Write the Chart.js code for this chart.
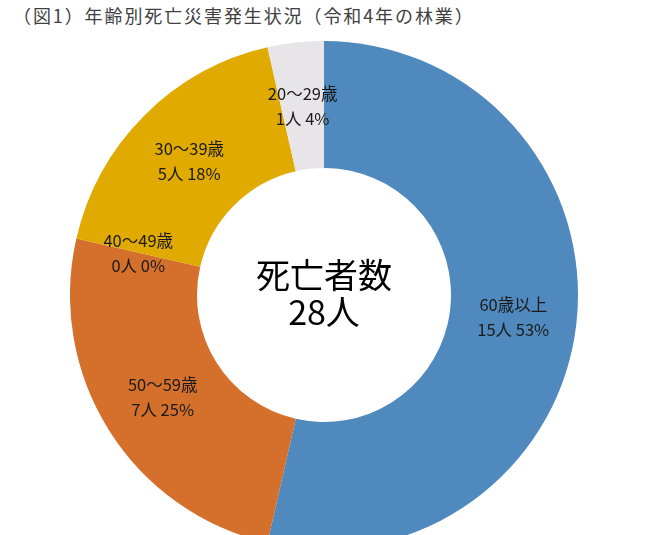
<!DOCTYPE html>
<html>
<head>
<meta charset="utf-8">
<script src="https://cdn.jsdelivr.net/npm/chart.js@4"></script>
<style>
  html, body { margin: 0; padding: 0; background: #fff; width: 650px; height: 535px; overflow: hidden; }
  #title {
    position: absolute; left: 13px; top: 2px;
    font: 18px "Noto Sans CJK JP", sans-serif;
    color: #404040; letter-spacing: 1.9px; white-space: nowrap;
  }
  #wrap { position: absolute; left: 70px; top: 41px; width: 508px; height: 508px; }
</style>
</head>
<body>
<div id="title">（図1）年齢別死亡災害発生状況（令和4年の林業）</div>
<div id="wrap"><canvas id="chart"></canvas></div>
<script>
// ---- data (clockwise from 12 o'clock) ----
const ageGroups = ['60歳以上', '50〜59歳', '40〜49歳', '30〜39歳', '20〜29歳'];
const deaths    = [15, 7, 0, 5, 1];
const shares    = [53, 25, 0, 18, 4];   // % as printed on the chart
const colors    = ['#4F89BD', '#D4702C', '#E0AA00', '#E0AA00', '#E7E5E7'];

const total = deaths.reduce((a, b) => a + b, 0);
const labelFont = '16.5px "Noto Sans CJK JP", sans-serif';

/* ---- labels on each slice + text in the hole ---- */
const sliceLabels = {
  id: 'sliceLabels',
  afterDatasetsDraw(chart) {
    const ctx = chart.ctx;
    const arcs = chart.getDatasetMeta(0).data;
    ctx.save();
    ctx.fillStyle = '#1a1a1a';
    ctx.textAlign = 'center';
    ctx.textBaseline = 'middle';
    ctx.font = labelFont;
    arcs.forEach((arc, i) => {
      const p = arc.getCenterPoint();
      ctx.fillText(ageGroups[i], p.x, p.y - 12);
      ctx.fillText(deaths[i] + '人 ' + shares[i] + '%', p.x, p.y + 13);
    });

    const first = arcs[0];
    ctx.fillStyle = '#000';
    ctx.font = '34px "Noto Sans CJK JP", sans-serif';
    ctx.fillText('死亡者数', first.x, first.y - 20);
    ctx.fillText(total + '人', first.x, first.y + 17);
    ctx.restore();
  }
};

new Chart(document.getElementById('chart'), {
  type: 'doughnut',
  data: {
    labels: ageGroups,
    datasets: [{
      data: deaths,
      backgroundColor: colors,
      borderWidth: 0
    }]
  },
  options: {
    responsive: true,
    maintainAspectRatio: false,
    animation: false,
    cutout: '50%',
    layout: { padding: 0 },
    plugins: {
      legend: { display: false },
      tooltip: { enabled: false }
    }
  },
  plugins: [sliceLabels]
});
</script>
</body>
</html>
